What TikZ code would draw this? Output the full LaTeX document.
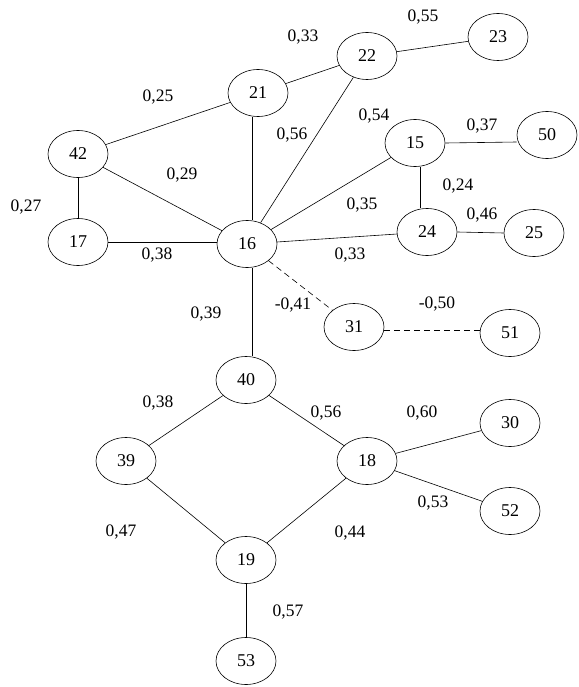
\documentclass[tikz,border=0pt]{standalone}
\usepackage{fontspec}
\setmainfont{Liberation Serif}
\usetikzlibrary{shapes.geometric}
\begin{document}
\begin{tikzpicture}[x=1pt,y=-1pt,
  vtx/.style={draw,ellipse,minimum width=60pt,minimum height=47pt,inner sep=0pt,font=\fontsize{18}{18}\selectfont,line width=0.6pt},
  lbl/.style={font=\fontsize{17.5}{17.5}\selectfont,inner sep=0pt},
  edge/.style={line width=0.6pt},
  dedge/.style={line width=0.6pt,dash pattern=on 6pt off 4pt}]
\useasboundingbox (0,0) rectangle (578,687);
\node[vtx] (n22) at (367,56) {22};
\node[vtx] (n23) at (498,37) {23};
\node[vtx] (n21) at (258,93) {21};
\node[vtx] (n42) at (78,154) {42};
\node[vtx] (n15) at (415,143) {15};
\node[vtx] (n50) at (547,135) {50};
\node[vtx] (n17) at (78,242) {17};
\node[vtx] (n16) at (247,244) {16};
\node[vtx] (n24) at (427,232) {24};
\node[vtx] (n25) at (534,233) {25};
\node[vtx] (n31) at (354,327) {31};
\node[vtx] (n51) at (510,333) {51};
\node[vtx] (n40) at (246,380) {40};
\node[vtx] (n39) at (126,461) {39};
\node[vtx] (n18) at (367,461) {18};
\node[vtx] (n30) at (510,423) {30};
\node[vtx] (n52) at (510,511) {52};
\node[vtx] (n19) at (246,560) {19};
\node[vtx] (n53) at (246,661) {53};

\draw[edge] (n22) -- (n23);
\draw[edge] (n21) -- (n22);
\draw[edge] (n42) -- (n21);
\draw[edge] ([xshift=-6pt]n21.south) -- ([xshift=5pt]n16.north);
\draw[edge] (n22) -- (n16);
\draw[edge] (n15) -- (n16);
\draw[edge] ([yshift=-7pt]n50.west) -- (n15.east);
\draw[edge] ([xshift=5pt]n15.south) -- ([xshift=-7pt]n24.north);
\draw[edge] (n42) -- (n16);
\draw[edge] (n42) -- (n17);
\draw[edge] (n17.east) -- ([yshift=2pt]n16.west);
\draw[edge] (n16) -- (n24);
\draw[edge] (n24.east) -- (n25.west);
\draw[dedge] (n16) -- (n31);
\draw[dedge] ([yshift=-3pt]n31.east) -- ([yshift=3pt]n51.west);
\draw[edge] ([xshift=5pt]n16.south) -- ([xshift=6pt]n40.north);
\draw[edge] (n40) -- (n39);
\draw[edge] (n40) -- (n18);
\draw[edge] (n18) -- (n30);
\draw[edge] (n18) -- (n52);
\draw[edge] (n39) -- (n19);
\draw[edge] (n18) -- (n19);
\draw[edge] (n19) -- (n53);

\node[lbl] (l1) at (303,37) {0,33};
\node[lbl] (l2) at (423,17) {0,55};
\node[lbl] (l3) at (158,97) {0,25};
\node[lbl] (l4) at (292,135) {0,56};
\node[lbl] (l5) at (374,116) {0,54};
\node[lbl] (l6) at (482,126) {0,37};
\node[lbl] (l7) at (182,175) {0,29};
\node[lbl] (l8) at (26,207) {0,27};
\node[lbl] (l9) at (458,186) {0,24};
\node[lbl] (l10) at (362,205) {0,35};
\node[lbl] (l11) at (482,215) {0,46};
\node[lbl] (l12) at (157,255) {0,38};
\node[lbl] (l13) at (350,255) {0,33};
\node[lbl] (l14) at (206,314) {0,39};
\node[lbl] (l15) at (293,305) {-0,41};
\node[lbl] (l16) at (437,304) {-0,50};
\node[lbl] (l17) at (158,403) {0,38};
\node[lbl] (l18) at (326,413) {0,56};
\node[lbl] (l19) at (422,413) {0,60};
\node[lbl] (l20) at (433,503) {0,53};
\node[lbl] (l21) at (121,532) {0,47};
\node[lbl] (l22) at (350,533) {0,44};
\node[lbl] (l23) at (288,612) {0,57};
\end{tikzpicture}
\end{document}
